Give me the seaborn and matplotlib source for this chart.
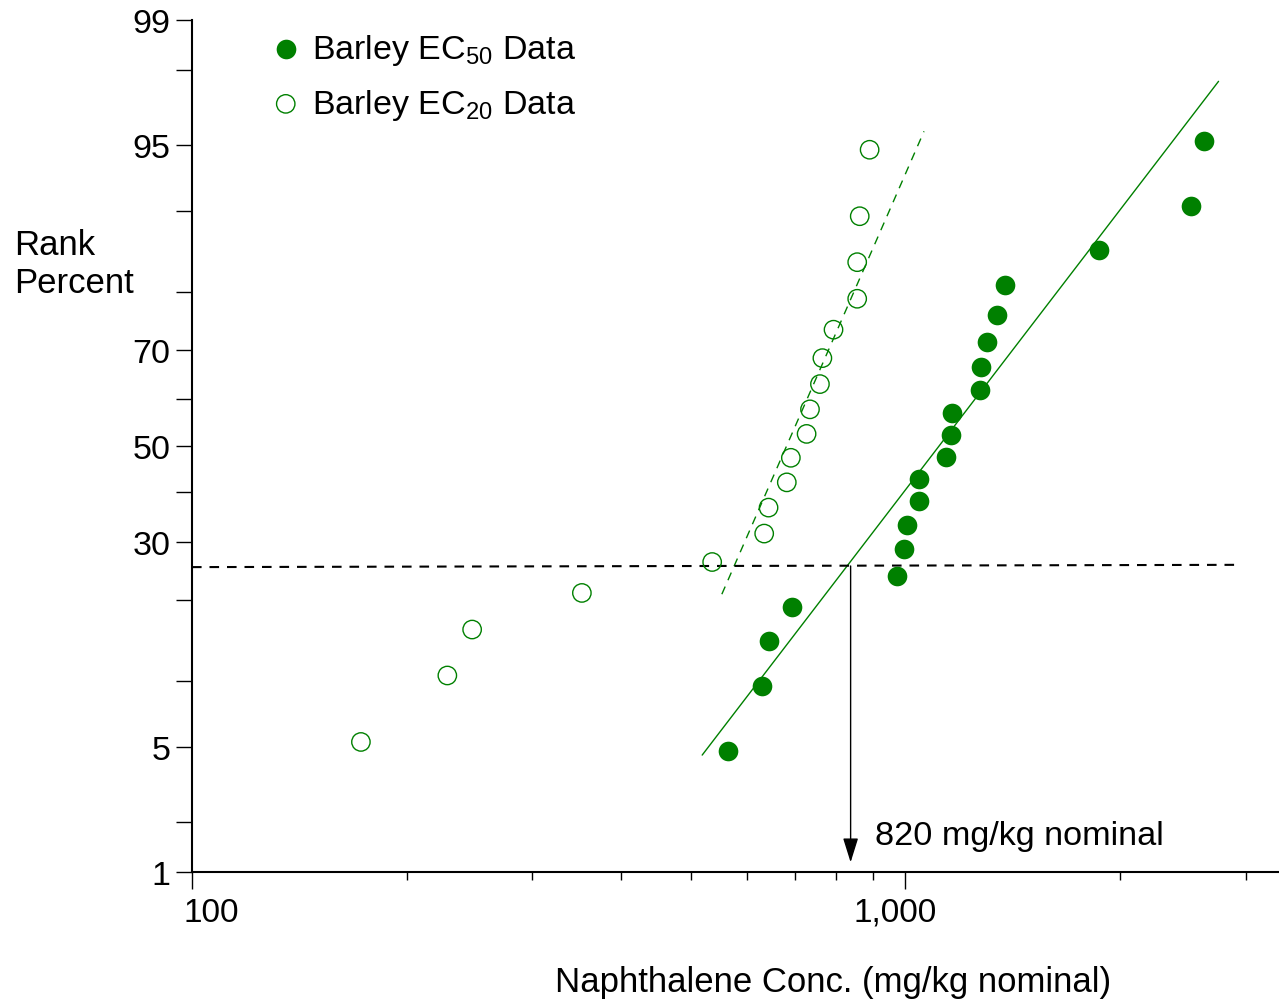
"""
plot.py

Probability plot (rank percent vs. log concentration) of barley EC50 / EC20
naphthalene toxicity data with fitted lines and the 25th percentile marker.
"""
from statistics import NormalDist

import numpy as np
import matplotlib
matplotlib.use("Agg")
import matplotlib.pyplot as plt
import matplotlib.ticker as mticker
import matplotlib.transforms as mtransforms
import seaborn as sns

# --- data --------------------------------------------------------------------
ec50_conc = [565, 629, 643, 693, 973, 994, 1006, 1044, 1046, 1141,
             1157, 1162, 1274, 1275, 1303, 1346, 1381, 1870, 2518, 2618]
ec50_rank = [4.8, 9.5, 14.3, 19.0, 23.8, 28.6, 33.3, 38.1, 42.9, 47.6,
             52.4, 57.1, 61.9, 66.7, 71.4, 76.2, 81.0, 85.7, 90.5, 95.2]

ec20_conc = [172.5, 228, 247, 352, 536, 634, 643, 682, 691, 727,
             735, 759, 765, 793, 856, 856, 863, 891]
ec20_rank = [5.3, 10.5, 15.8, 21.1, 26.3, 31.6, 36.8, 42.1, 47.4, 52.6,
             57.9, 63.2, 68.4, 73.7, 78.9, 84.2, 89.5, 94.7]

# fitted lines (end points)
ec50_fit_conc = [519, 2748]
ec50_fit_rank = [4.57, 97.67]
ec20_fit_conc = [553, 1062]
ec20_fit_rank = [20.9, 95.7]

# 25th percentile reference line and the read-off arrow
ref_conc = [100, 2920]
ref_rank = [25.4, 25.8]
arrow_conc = 838
arrow_rank = [25.6, 1.15]
arrow_label = "820 mg/kg nominal"
label_pos = (906, 1.48)

y_major = [1, 5, 30, 50, 70, 95, 99]
y_minor = [2, 10, 20, 40, 60, 80, 90, 98]
x_major = [100, 1000]
x_major_labels = ["100", "1,000"]
x_minor = [200, 300, 400, 500, 600, 700, 800, 900, 2000, 3000]

GREEN = "#008000"

# --- style -------------------------------------------------------------------
sns.set_style("ticks")
plt.rcParams["font.family"] = ["Liberation Sans", "DejaVu Sans"]
plt.rcParams["mathtext.default"] = "regular"
plt.rcParams["text.color"] = "black"
plt.rcParams["axes.labelcolor"] = "black"
plt.rcParams["xtick.color"] = "black"
plt.rcParams["ytick.color"] = "black"

_nd = NormalDist()


def _one_probit(v):
    if np.isnan(v):
        return np.nan
    v = min(max(v, 1e-6), 100 - 1e-6)
    return _nd.inv_cdf(v / 100.0)


def _one_inv(v):
    if np.isnan(v):
        return np.nan
    return _nd.cdf(v) * 100.0


_probit_v = np.vectorize(_one_probit, otypes=[float])
_inv_v = np.vectorize(_one_inv, otypes=[float])


def _probit(p):
    return _probit_v(np.asarray(p, dtype=float))


def _inv_probit(z):
    return _inv_v(np.asarray(z, dtype=float))


fig = plt.figure(figsize=(12.79, 10.04), dpi=100)
ax = fig.add_axes([192 / 1279, 131 / 1004, 1087 / 1279, 852.3 / 1004])

ax.set_xscale("log")
ax.set_yscale("function", functions=(_probit, _inv_probit))

# fitted lines
sns.lineplot(x=ec50_fit_conc, y=ec50_fit_rank, color=GREEN, lw=1.0,
             sort=False, ax=ax)
sns.lineplot(x=ec20_fit_conc, y=ec20_fit_rank, color=GREEN, lw=1.0,
             sort=False, ax=ax)
ax.lines[-1].set_dashes((6, 5))
sns.lineplot(x=ref_conc, y=ref_rank, color="black", lw=1.5,
             sort=False, ax=ax)
ax.lines[-1].set_dashes((4.6, 3.8))

# data points
sns.scatterplot(x=ec50_conc, y=ec50_rank, color=GREEN, s=200, linewidth=0,
                marker="o", label="Barley EC$_{50}$ Data", ax=ax, zorder=3)
sns.scatterplot(x=ec20_conc, y=ec20_rank, color=GREEN, facecolor="none",
                edgecolor=GREEN, s=175, linewidth=1.0, marker="o",
                label="Barley EC$_{20}$ Data", ax=ax, zorder=3)

# arrow to the x axis
ax.annotate("", xy=(arrow_conc, arrow_rank[1]),
            xytext=(arrow_conc, arrow_rank[0]),
            arrowprops=dict(arrowstyle="-|>,head_length=1.5,head_width=0.47",
                            mutation_scale=10, color="black", lw=1.0,
                            shrinkA=0, shrinkB=0))
ax.text(label_pos[0], label_pos[1], arrow_label, fontsize=24.7,
        ha="left", va="baseline")

# axes limits / ticks
ax.set_xlim(100, 3340)
ax.set_ylim(1, 99)
ax.xaxis.set_major_locator(mticker.FixedLocator(x_major))
ax.xaxis.set_major_formatter(mticker.FixedFormatter(x_major_labels))
ax.xaxis.set_minor_locator(mticker.FixedLocator(x_minor))
ax.xaxis.set_minor_formatter(mticker.NullFormatter())
ax.yaxis.set_major_locator(mticker.FixedLocator(y_major))
ax.yaxis.set_major_formatter(mticker.FixedFormatter([str(v) for v in y_major]))
ax.yaxis.set_minor_locator(mticker.FixedLocator(y_minor))
ax.yaxis.set_minor_formatter(mticker.NullFormatter())

ax.tick_params(axis="y", which="both", length=11.5, width=1.0, direction="out",
               labelsize=24.5, pad=4, color="black", labelcolor="black")
ax.tick_params(axis="x", which="major", length=12, width=1.0, direction="out",
               labelsize=24, pad=6, color="black", labelcolor="black")
ax.tick_params(axis="x", which="minor", length=6, width=1.0, direction="out",
               color="black")

# the tick labels sit a little off their ticks in the reference
shifts = [19, -10]
for lab, dx in zip(ax.get_xticklabels(), shifts):
    lab.set_transform(lab.get_transform() + mtransforms.ScaledTranslation(
        dx / 100, 0, fig.dpi_scale_trans))

sns.despine(ax=ax)
for side in ("left", "bottom"):
    ax.spines[side].set_linewidth(1.5)
    ax.spines[side].set_color("black")
ax.set_xlabel("")
ax.set_ylabel("")

fig.text(833 / 1279, 1 - 992 / 1004, "Naphthalene Conc. (mg/kg nominal)",
         fontsize=25, ha="center", va="baseline")
fig.text(14 / 1279, 1 - 255 / 1004, "Rank", fontsize=25, ha="left",
         va="baseline")
fig.text(14 / 1279, 1 - 293 / 1004, "Percent", fontsize=25, ha="left",
         va="baseline")

ax.legend(loc="upper left", bbox_to_anchor=(0.0709, 0.9855), frameon=False,
          fontsize=24.5, handlelength=0.98, handletextpad=0.27, borderpad=0,
          borderaxespad=0, labelspacing=0.58)

fig.savefig("out.png", dpi=100)
